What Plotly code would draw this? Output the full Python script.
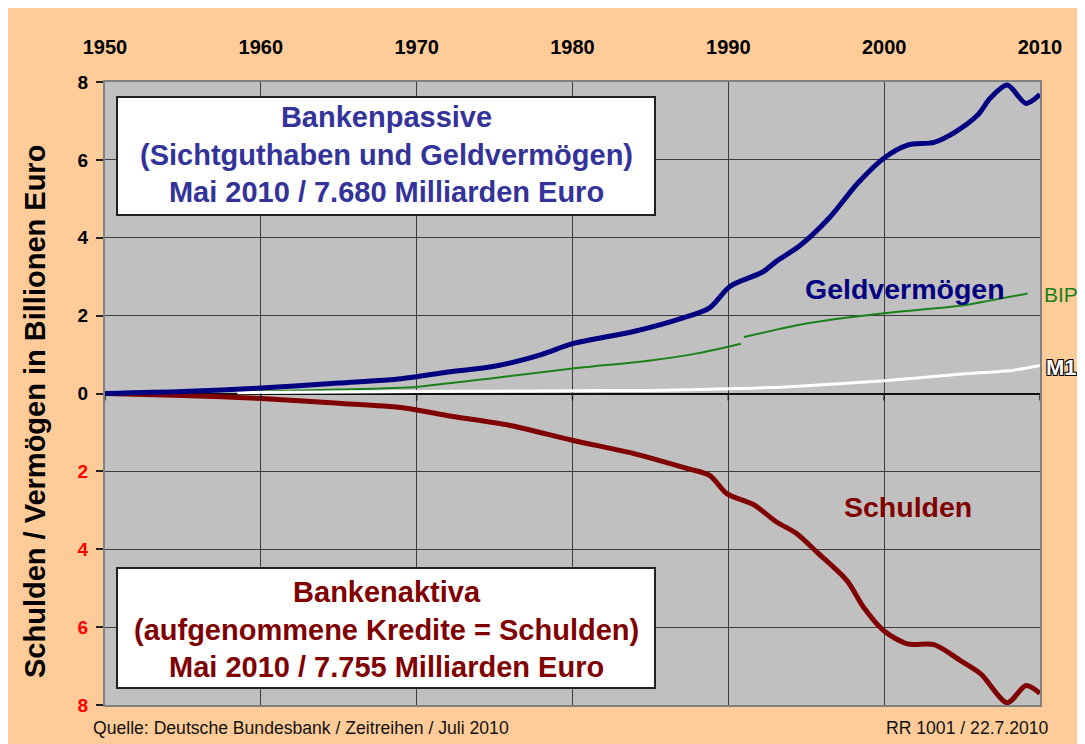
import plotly.graph_objects as go

# ---- data ----
years_geld = [1950, 1955, 1960, 1965, 1969, 1972, 1975, 1978, 1980, 1984, 1987, 1988.8,
              1990.1, 1992.2, 1993.1, 1994.6, 1996.5, 1998.3, 2000, 2001.5,
              2003.2, 2004.5, 2006, 2006.8, 2007.9, 2009.1, 2010]
geld = [0.0, 0.05, 0.14, 0.27, 0.38, 0.55, 0.7, 1.0, 1.28, 1.6, 1.93, 2.2,
        2.75, 3.12, 3.4, 3.8, 4.52, 5.4, 6.05, 6.38,
        6.45, 6.7, 7.15, 7.58, 7.92, 7.45, 7.68]

years_schulden = [1950, 1955, 1960, 1965, 1969, 1972, 1976, 1980, 1984, 1987.4, 1988.8,
                  1989.9, 1991.6, 1993.1, 1994.4, 1995.7, 1997.6, 1998.7, 2000,
                  2001.5, 2003.2, 2004.9, 2006.2, 2007.9, 2009.1, 2010]
schulden = [0.0, 0.05, 0.13, 0.25, 0.36, 0.57, 0.82, 1.2, 1.55, 1.93, 2.1,
            2.57, 2.85, 3.3, 3.6, 4.08, 4.8, 5.5, 6.1,
            6.43, 6.45, 6.86, 7.2, 7.94, 7.5, 7.7]

years_bip = [1960, 1965, 1970, 1975, 1980, 1985, 1988, 1990.8, 1990.9,
             1991, 1993.3, 1995, 1999.7, 2005, 2009.2]
bip = [0.05, 0.1, 0.17, 0.4, 0.64, 0.85, 1.03, 1.28, None,
       1.45, 1.66, 1.8, 2.05, 2.26, 2.57]

years_m1 = [1958.5, 1965, 1970, 1975, 1980, 1985, 1990, 1993.3, 1995, 2000, 2005, 2008.3, 2010]
m1 = [0.02, 0.04, 0.05, 0.06, 0.07, 0.08, 0.12, 0.16, 0.2, 0.33, 0.5, 0.6, 0.72]

x_ticks = [1950, 1960, 1970, 1980, 1990, 2000, 2010]
y_ticks = [-8, -6, -4, -2, 0, 2, 4, 6, 8]
y_ticklabels = ['8', '6', '4', '2', '0', '2', '4', '6', '8']

FONT = "Arial, Liberation Sans, sans-serif"
PEACH = "#FFCC99"
GRAY = "#C0C0C0"

fig = go.Figure()

fig.add_trace(go.Scatter(x=years_bip, y=bip, mode="lines", connectgaps=False,
                         line=dict(color="#1A801A", width=2, shape="spline", smoothing=0.6),
                         hoverinfo="skip"))
fig.add_trace(go.Scatter(x=years_m1, y=m1, mode="lines",
                         line=dict(color="white", width=3, shape="spline", smoothing=0.6),
                         hoverinfo="skip"))
fig.add_trace(go.Scatter(x=years_schulden, y=[-v for v in schulden], mode="lines",
                         line=dict(color="#800000", width=5, shape="spline", smoothing=0.8),
                         hoverinfo="skip"))
fig.add_trace(go.Scatter(x=years_geld, y=geld, mode="lines",
                         line=dict(color="#000080", width=5, shape="spline", smoothing=0.8),
                         hoverinfo="skip"))

# y tick labels: positive half black, negative half red
ytext = []
for v, lab in zip(y_ticks, y_ticklabels):
    col = "#FF0000" if v < 0 else "#000000"
    ytext.append(f"<span style='color:{col}'><b>{lab}</b></span>")

W, H = 1085, 744
OFF = 8                      # page body margin
L, T = 97, 74                # plot area in figure coords
PW, PH = 935, 623
R = W - L - PW
B = H - T - PH


def px_x(px):               # page pixel -> paper fraction
    return (px - OFF - L) / PW


def px_y(py):
    return (T + PH - (py - OFF)) / PH


shapes = [
    # upper text box
    dict(type="rect", xref="paper", yref="paper",
         x0=px_x(117), x1=px_x(655), y0=px_y(215), y1=px_y(97),
         fillcolor="white", line=dict(color="#202020", width=2)),
    # lower text box
    dict(type="rect", xref="paper", yref="paper",
         x0=px_x(117), x1=px_x(655), y0=px_y(688), y1=px_y(568),
         fillcolor="white", line=dict(color="#202020", width=2)),
]
# small tick marks hanging below the zero line
for xt in x_ticks:
    shapes.append(dict(type="line", xref="x", yref="y", ysizemode="pixel", yanchor=0,
                       x0=xt, x1=xt, y0=0, y1=-7, line=dict(color="#202020", width=1.5)))


def ann(x, y, text, font, xanchor="center", yanchor="middle", **kw):
    d = dict(xref="paper", yref="paper", x=px_x(x), y=px_y(y), text=text,
             showarrow=False, xanchor=xanchor, yanchor=yanchor, font=font)
    d.update(kw)
    return d


annotations = [
    ann(386, 154, "Bankenpassive<br>(Sichtguthaben und Geldvermögen)<br>Mai 2010 / 7.680 Milliarden Euro",
        dict(family=FONT, size=29, color="#333399", weight="bold"), align="center"),
    ann(386, 629, "Bankenaktiva<br>(aufgenommene Kredite = Schulden)<br>Mai 2010 / 7.755 Milliarden Euro",
        dict(family=FONT, size=29, color="#800000", weight="bold"), align="center"),
    ann(905, 289, "Geldvermögen", dict(family=FONT, size=28.5, color="#000080", weight="bold")),
    ann(908, 507, "Schulden", dict(family=FONT, size=28.5, color="#800000", weight="bold")),
    ann(1042, 294, "BIP", dict(family=FONT, size=21, color="#1A801A"), xanchor="left"),
    ann(1044, 367, "M1", dict(family=FONT, size=22, color="white", weight="bold",
                              shadow="-1px -1px 0 #000, 1px -1px 0 #000, -1px 1px 0 #000, 1px 1px 0 #000"),
        xanchor="left"),
    ann(35, 412, "Schulden / Vermögen in Billionen Euro",
        dict(family=FONT, size=29, color="#000000", weight="bold"), textangle=-90),
    ann(91, 728, "Quelle: Deutsche Bundesbank / Zeitreihen / Juli 2010",
        dict(family=FONT, size=17.6, color="#111111"), xanchor="left"),
    ann(1051, 728, "RR 1001 / 22.7.2010",
        dict(family=FONT, size=17.6, color="#111111"), xanchor="right"),
]

fig.update_layout(
    width=W, height=H,
    margin=dict(l=L, r=R, t=T, b=B, pad=0),
    paper_bgcolor=PEACH,
    plot_bgcolor=GRAY,
    showlegend=False,
    font=dict(family=FONT, color="black"),
    shapes=shapes,
    annotations=annotations,
    xaxis=dict(range=[1950, 2010], side="top", tickvals=x_ticks,
               ticktext=[str(t) for t in x_ticks], ticks="",
               tickfont=dict(family=FONT, size=20, color="black", weight="bold"),
               ticklabelstandoff=18,
               showgrid=True, gridcolor="#3C3C3C", gridwidth=1,
               showline=True, linecolor="#808080", linewidth=2, mirror=True,
               zeroline=False, fixedrange=True),
    yaxis=dict(range=[-8, 8], tickvals=y_ticks, ticktext=ytext,
               ticks="outside", ticklen=7, tickcolor="#202020", tickwidth=1.5,
               tickfont=dict(family=FONT, size=19, color="black"),
               ticklabelstandoff=4,
               showgrid=True, gridcolor="#3C3C3C", gridwidth=1,
               zeroline=True, zerolinecolor="#101010", zerolinewidth=2,
               showline=True, linecolor="#808080", linewidth=2, mirror=True,
               fixedrange=True),
)

fig.write_html("out.html")
